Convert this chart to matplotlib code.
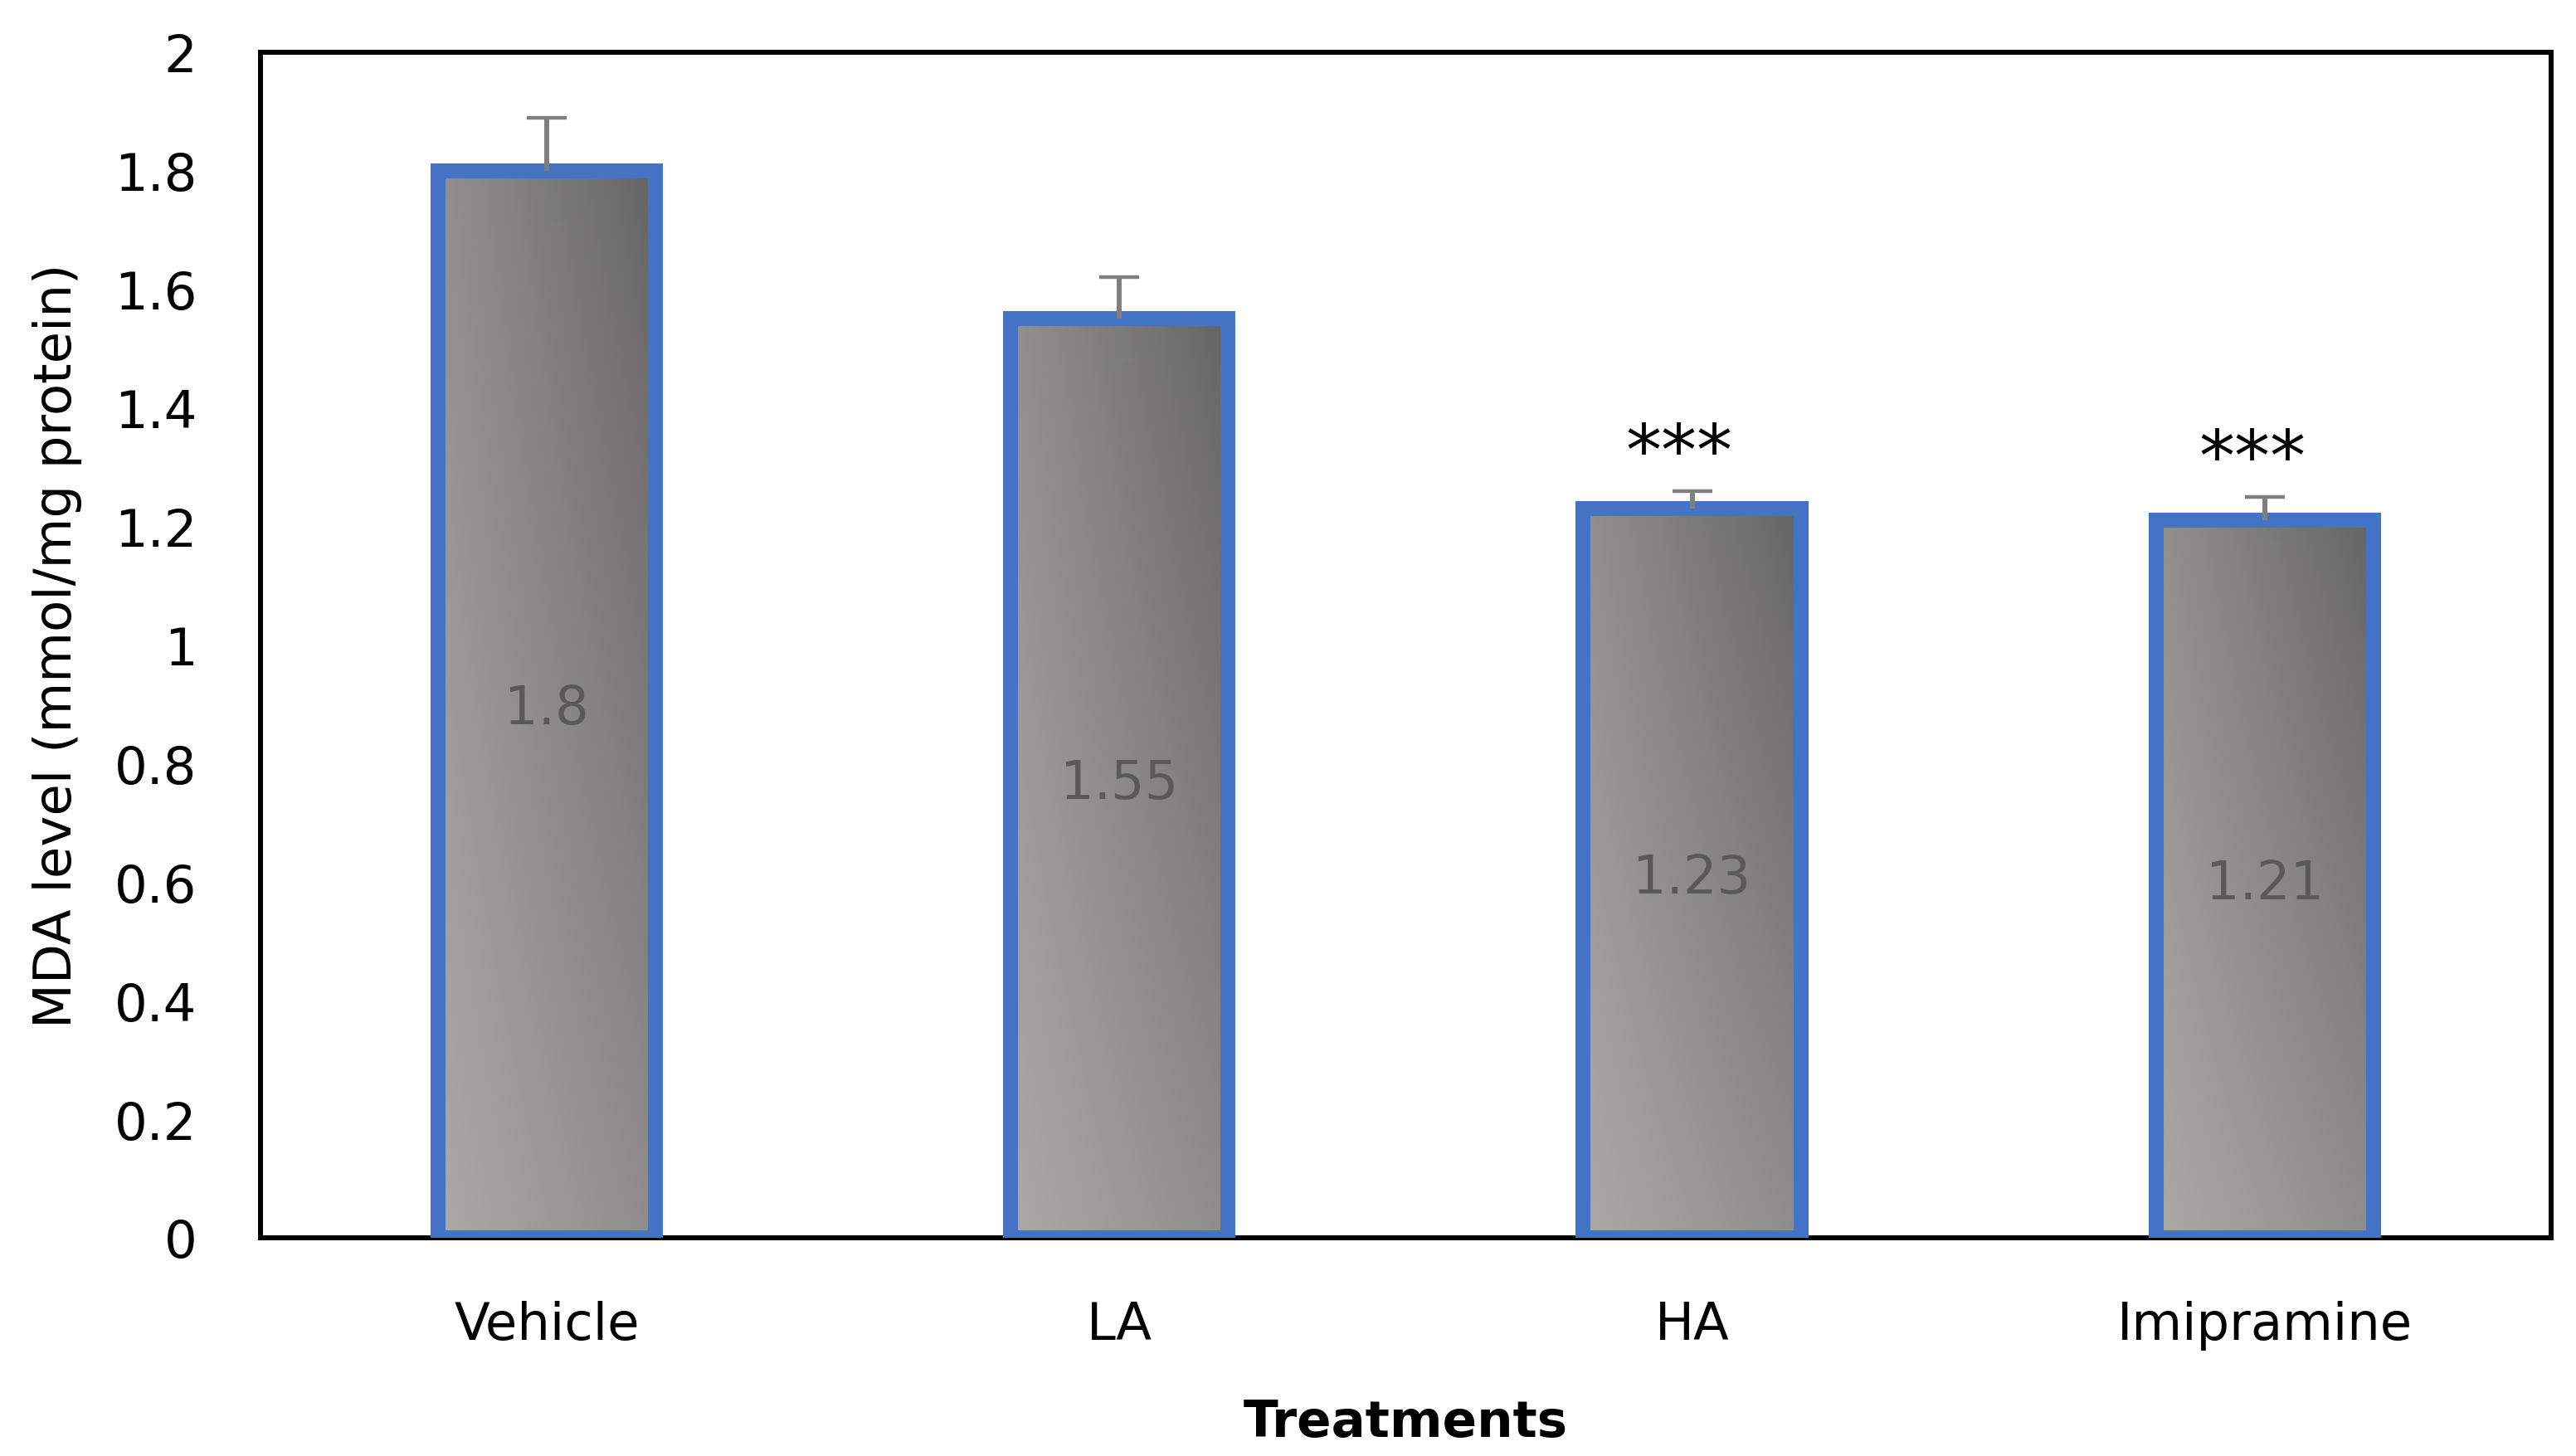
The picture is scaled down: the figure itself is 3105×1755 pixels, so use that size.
import matplotlib.pyplot as plt
import numpy as np

# data
treatments = ['Vehicle', 'LA', 'HA', 'Imipramine']
mda_means = [1.8, 1.55, 1.23, 1.21]
mda_errors = [0.09, 0.07, 0.03, 0.04]
significance = ['', '', '***', '***']

plt.rcParams['font.family'] = ['DejaVu Sans']

bar_blue = '#4472C4'
err_grey = '#7f7f7f'


def bar_gradient(n=64):
    """Diagonal grey fill like the Excel bars: light bottom-left, dark top-right."""
    tl = np.array([146, 145, 144]) / 255.0
    tr = np.array([102, 101, 101]) / 255.0
    bl = np.array([172, 168, 165]) / 255.0
    br = np.array([143, 141, 139]) / 255.0
    u = np.linspace(0, 1, n)[None, :, None]      # left -> right
    v = np.linspace(0, 1, n)[:, None, None]      # top -> bottom (image rows)
    top = tl * (1 - u) + tr * u
    bottom = bl * (1 - u) + br * u
    return top * (1 - v) + bottom * v


fig = plt.figure(figsize=(31.05, 17.56), dpi=100)
ax = fig.add_axes([0.1011, 0.1498, 0.8892, 0.8138])

x = np.arange(len(treatments))
bars = ax.bar(x, mda_means, width=0.38, facecolor='none', edgecolor=bar_blue,
              linewidth=13, zorder=4)

grad = bar_gradient()
for patch in bars:
    x0, y0 = patch.get_x(), patch.get_y()
    ax.imshow(grad, extent=[x0, x0 + patch.get_width(), y0, y0 + patch.get_height()],
              aspect='auto', interpolation='bilinear', zorder=3)

means = np.array(mda_means)
errs = np.array(mda_errors)
# upper error bar
ax.vlines(x, means, means + errs, colors=err_grey, linewidth=4.3, zorder=5)
ax.plot(x, means + errs, ls='none', marker='_', markersize=34, markeredgewidth=3.2,
        color=err_grey, zorder=5)
# lower half sits inside the bar, barely visible
ax.vlines(x, means - errs, means, colors=err_grey, linewidth=4.3, alpha=0.25, zorder=3.5)
ax.plot(x, means - errs, ls='none', marker='_', markersize=34, markeredgewidth=3.2,
        color=err_grey, alpha=0.25, zorder=3.5)

for i, v in enumerate(mda_means):
    ax.annotate(f'{v:g}', xy=(i, v / 2), xytext=(0, -17), textcoords='offset points',
                ha='center', va='baseline', fontsize=46, color='#595959', zorder=6)
    if significance[i]:
        ax.annotate(significance[i], xy=(i, v + mda_errors[i]), xytext=(-11, 14),
                    textcoords='offset points', ha='center', va='baseline',
                    fontsize=62, color='black', zorder=6)

ax.set_xlim(-0.5, len(treatments) - 0.5)
ax.set_ylim(0, 2)
ax.set_yticks(np.arange(0, 2.01, 0.2))
ax.set_yticklabels([f'{t:g}' for t in np.arange(0, 2.01, 0.2).round(1)])
ax.set_xticks(x)
ax.set_xticklabels(treatments)
ax.tick_params(axis='y', length=0, pad=55, labelsize=45)
ax.tick_params(axis='x', length=0, pad=54, labelsize=45)

for spine in ax.spines.values():
    spine.set_linewidth(4.3)
    spine.set_color('black')
    spine.set_zorder(2)

ax.set_ylabel('MDA level (mmol/mg protein)', fontsize=45)
ax.yaxis.set_label_coords(-0.078, 0.5)
ax.set_xlabel('Treatments', fontsize=44, fontweight='bold')
ax.xaxis.set_label_coords(0.5, -0.135)

fig.savefig('out.png', dpi=100)
